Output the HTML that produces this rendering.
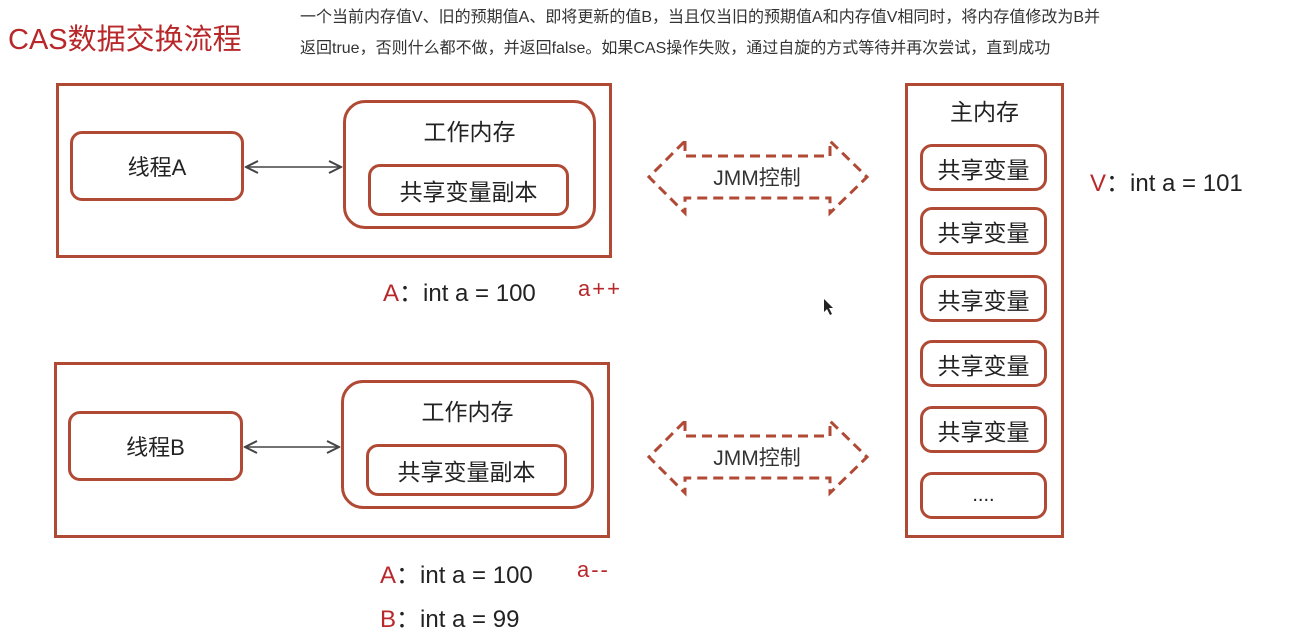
<!DOCTYPE html>
<html><head><meta charset="utf-8"><style>
body{margin:0;width:1290px;height:633px;background:#fff;position:relative;overflow:hidden;font-family:"Liberation Sans","Noto Sans CJK SC",sans-serif;color:#222}
.a{position:absolute;box-sizing:border-box}
.b{border:3px solid #b04a35}
.r{border-radius:12px}
.c{display:flex;align-items:center;justify-content:center;font-size:23px}
.red{color:#b8282a}
</style></head><body>
<div class="a red" style="left:8px;top:16px;font-size:29px">CAS数据交换流程</div>
<div class="a" style="left:300px;top:2px;font-size:16px;line-height:31px;color:#333">一个当前内存值V、旧的预期值A、即将更新的值B，当且仅当旧的预期值A和内存值V相同时，将内存值修改为B并<br>返回true，否则什么都不做，并返回false。如果CAS操作失败，通过自旋的方式等待并再次尝试，直到成功</div>

<div class="a b" style="left:56px;top:83px;width:556px;height:175px"></div>
<div class="a b r c" style="left:70px;top:131px;width:174px;height:70px;font-size:22px">线程A</div>
<div class="a b" style="left:343px;top:100px;width:253px;height:129px;border-radius:22px"></div>
<div class="a c" style="left:343px;top:115px;width:253px;height:30px;font-size:23px">工作内存</div>
<div class="a b r c" style="left:368px;top:164px;width:201px;height:52px">共享变量副本</div>

<div class="a b" style="left:54px;top:362px;width:556px;height:176px"></div>
<div class="a b r c" style="left:68px;top:411px;width:175px;height:70px;font-size:22px">线程B</div>
<div class="a b" style="left:341px;top:380px;width:253px;height:129px;border-radius:22px"></div>
<div class="a c" style="left:341px;top:395px;width:253px;height:30px;font-size:23px">工作内存</div>
<div class="a b r c" style="left:366px;top:444px;width:201px;height:52px">共享变量副本</div>

<svg class="a" style="left:0;top:0" width="1290" height="633">
<defs><marker id="m" markerWidth="10" markerHeight="10" refX="9" refY="5" orient="auto-start-reverse"><path d="M1,1 L9,5 L1,9" fill="none" stroke="#444" stroke-width="1.3"/></marker></defs>
<line x1="246" y1="167" x2="341" y2="167" stroke="#444" stroke-width="1.5" marker-start="url(#m)" marker-end="url(#m)"/>
<line x1="245" y1="447" x2="339" y2="447" stroke="#444" stroke-width="1.5" marker-start="url(#m)" marker-end="url(#m)"/>
<g fill="none" stroke="#b04a35" stroke-width="3" stroke-dasharray="10,6">
<path d="M685,141 L685,156 L830,156 L830,141 L867,177 L830,213 L830,198 L685,198 L685,213 L649,177 Z"/>
<path d="M685,421 L685,436 L830,436 L830,421 L867,457 L830,493 L830,478 L685,478 L685,493 L649,457 Z"/>
</g>
<text x="757" y="185" font-size="21" text-anchor="middle" fill="#333" font-family="Liberation Sans,Noto Sans CJK SC,sans-serif">JMM控制</text>
<text x="757" y="465" font-size="21" text-anchor="middle" fill="#333" font-family="Liberation Sans,Noto Sans CJK SC,sans-serif">JMM控制</text>
<path d="M824,299 L824,312 L827,309 L830,315 L832,314 L829,308 L833,308 Z" fill="#222"/>
</svg>

<div class="a b" style="left:905px;top:83px;width:159px;height:455px"></div>
<div class="a c" style="left:905px;top:95px;width:159px;height:30px;font-size:23px">主内存</div>
<div class="a b r c" style="left:920px;top:144px;width:127px;height:47px">共享变量</div>
<div class="a b r c" style="left:920px;top:207px;width:127px;height:48px">共享变量</div>
<div class="a b r c" style="left:920px;top:275px;width:127px;height:47px">共享变量</div>
<div class="a b r c" style="left:920px;top:340px;width:127px;height:47px">共享变量</div>
<div class="a b r c" style="left:920px;top:406px;width:127px;height:47px">共享变量</div>
<div class="a b r c" style="left:920px;top:472px;width:127px;height:47px;font-size:20px">....</div>

<div class="a" style="left:1090px;top:163px;font-size:24px"><span class="red">V</span>：int a = 101</div>
<div class="a" style="left:383px;top:273px;font-size:24px"><span class="red">A</span>：int a = 100</div>
<div class="a red" style="left:578px;top:276px;font-size:22px;letter-spacing:2px">a++</div>
<div class="a" style="left:380px;top:555px;font-size:24px"><span class="red">A</span>：int a = 100</div>
<div class="a red" style="left:577px;top:557px;font-size:22px;letter-spacing:2px">a--</div>
<div class="a" style="left:380px;top:599px;font-size:24px"><span class="red">B</span>：int a = 99</div>
</body></html>
